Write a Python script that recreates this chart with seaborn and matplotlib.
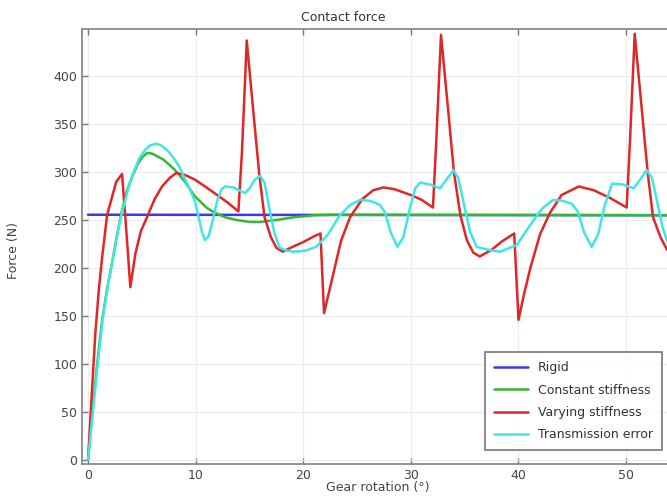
import matplotlib
matplotlib.use("Agg")
import matplotlib.pyplot as plt
import seaborn as sns
import pandas as pd

# Rigid model
rigid_x = [0, 54]
rigid_y = [255.5, 255]

# Constant stiffness
const_x = [0, 0.4, 0.85, 1.3, 1.8, 2.23, 2.7, 3.16, 3.6, 4.09, 4.6, 5.0, 5.5, 6.0, 7.0, 8.0,
           9.0, 9.9, 11.0, 11.7, 12.7, 13.8, 15.0, 16.0, 17.5, 19.2, 21.1, 23.0, 54]
const_y = [0, 50, 100, 145, 180, 205, 235, 260, 280, 295, 308, 315, 320, 319, 313, 303,
           290, 275, 263, 258, 253, 250, 248, 248, 250, 253, 255, 255.5, 255]

# Varying stiffness
vary_x = [0, 0.37, 0.68, 1.0, 1.3, 1.77, 2.23, 2.63, 3.16, 3.55, 3.93, 4.4, 4.9, 5.48, 6.2, 6.88,
          7.6, 8.2, 9.0, 9.94, 11.0, 12.0, 13.0, 13.97, 14.3, 14.75, 15.3, 15.9, 16.4, 17.0,
          17.5, 18.1, 19.0, 20.0, 21.0, 21.6, 21.93, 22.5, 23.5, 24.35, 25.5, 26.5, 27.45,
          28.5, 30.0, 31.0, 32.05, 32.35, 32.8, 33.4, 34.0, 34.6, 35.2, 35.8, 36.4, 37.5,
          38.5, 39.6, 40.0, 40.5, 41.1, 42.0, 42.9, 44.0, 45.6, 47.0, 48.5, 50.05, 50.35,
          50.8, 51.4, 52.0, 52.5, 53.2, 53.8]
vary_y = [0, 73, 132, 177, 210, 255, 274, 290, 298, 240, 180, 215, 238, 253, 272, 285,
          294, 299, 297, 292, 284, 276, 268, 259, 320, 437, 370, 299, 253, 232,
          221, 217, 222, 227, 233, 236, 153, 180, 228, 253, 272, 281, 284,
          282, 276, 271, 263, 330, 443, 372, 300, 255, 229, 216, 212, 219,
          228, 236, 146, 172, 200, 235, 257, 276, 285, 281, 273, 263, 330,
          444, 372, 300, 253, 232, 219]

# Transmission error
te_x = [0, 0.45, 0.9, 1.4, 1.9, 2.4, 2.9, 3.3, 3.8, 4.3, 4.8, 5.3, 5.8, 6.4, 6.9, 7.5, 8.0,
        8.5, 9.0, 9.5, 9.94, 10.3, 10.6, 10.87, 11.2, 11.6, 12.0, 12.4, 12.73, 13.5, 14.2,
        14.6, 15.0, 15.5, 16.0, 16.4, 16.8, 17.3, 17.8, 18.5, 19.2, 20.2, 21.2, 22.3, 23.4,
        24.4, 25.3, 26.2, 27.1, 27.6, 28.1, 28.75, 29.3, 29.9, 30.4, 30.86, 31.8, 32.7,
        33.3, 33.95, 34.4, 34.9, 35.5, 36.1, 37.2, 38.3, 39.85, 40.5, 41.1, 42.2, 43.2,
        44.1, 44.95, 45.5, 46.1, 46.8, 47.4, 48.0, 48.7, 49.7, 50.7, 51.3, 51.9, 52.4,
        52.9, 53.4, 53.8]
te_y = [0, 50, 100, 150, 185, 215, 245, 264, 285, 302, 315, 323, 328, 329.5, 327, 321, 314,
        305, 293, 281, 269, 252, 237, 229, 233, 250, 270, 282, 285, 284, 280,
        278, 283, 292, 296, 289, 265, 237, 221, 218, 217, 218, 222, 235, 255,
        266, 271, 270, 266, 258, 238, 222, 232, 262, 283, 289, 287, 283,
        292, 302, 294, 268, 238, 222, 219, 217, 224, 235, 245, 262, 271,
        270, 267, 259, 237, 222, 235, 265, 288, 287, 283, 292, 302, 294,
        268, 242, 228]

labels = ["Rigid", "Constant stiffness", "Varying stiffness", "Transmission error"]
colors = ["#3a3ae6", "#33b833", "#e02626", "#40e6e6"]

frames = []
for lab, xs, ys in zip(labels, [rigid_x, const_x, vary_x, te_x], [rigid_y, const_y, vary_y, te_y]):
    frames.append(pd.DataFrame({"angle": xs, "force": ys, "model": lab}))
df = pd.concat(frames, ignore_index=True)

sns.set_theme(style="white")
plt.rcParams["font.family"] = ["DejaVu Sans"]

fig = plt.figure(figsize=(6.67, 4.96), dpi=100)
ax = fig.add_axes([82 / 667, 32 / 496, 585 / 667, 435 / 496])

sns.lineplot(data=df, x="angle", y="force", hue="model", hue_order=labels,
             palette=dict(zip(labels, colors)), estimator=None, sort=False,
             linewidth=1.8, ax=ax)

ax.set_xlim(-0.56, 53.8)
ax.set_ylim(-4.2, 449)
ax.set_xticks([0, 10, 20, 30, 40, 50])
ax.set_yticks([0, 50, 100, 150, 200, 250, 300, 350, 400])
ax.grid(True, color="#ececec", linewidth=0.8)
ax.set_axisbelow(True)

ax.tick_params(direction="in", length=4, width=1, colors="#777777", labelcolor="#444444",
               labelsize=9, top=True, bottom=True, left=True, right=False)
for side in ["left", "bottom", "top"]:
    ax.spines[side].set_color("#8a8a8a")
    ax.spines[side].set_linewidth(1.3)
ax.spines["right"].set_visible(False)

ax.set_title("Contact force", x=0.446, fontsize=9, color="#333333", pad=6)
ax.set_xlabel("Gear rotation (°)", fontsize=9, color="#444444")
ax.set_ylabel("Force (N)", fontsize=9, color="#444444")
ax.xaxis.set_label_coords(0.506, -0.039)
ax.yaxis.set_label_coords(-0.106, 0.49)

leg = ax.legend(loc="lower right", bbox_to_anchor=(0.991, 0.032), borderaxespad=0,
                fontsize=9, frameon=True, fancybox=False, handlelength=2.7,
                labelspacing=0.75, borderpad=0.7)
leg.get_frame().set_edgecolor("#555555")
leg.get_frame().set_linewidth(1.2)
for t in leg.get_texts():
    t.set_color("#333333")

fig.savefig("out.png", dpi=100)
